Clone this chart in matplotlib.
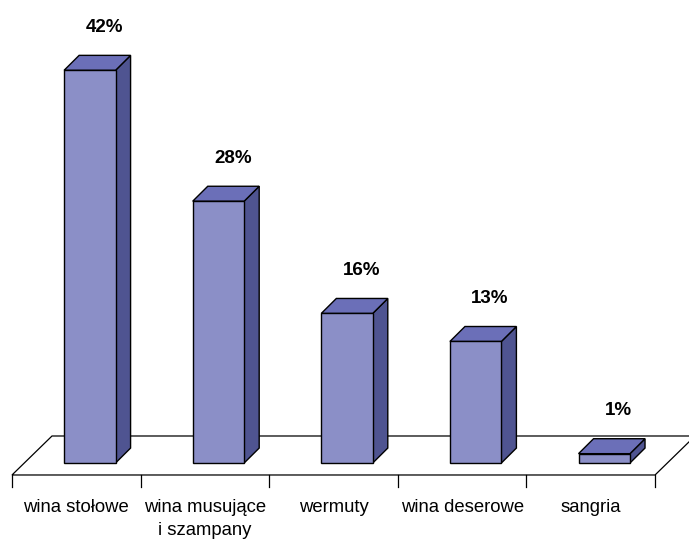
import matplotlib
matplotlib.use('Agg')
from matplotlib import pyplot as plt
from matplotlib.patches import Polygon

# dane
categories = ['wina stołowe', 'wina musujące\ni szampany', 'wermuty', 'wina deserowe', 'sangria']
values = [42, 28, 16, 13, 1]
labels = ['42%', '28%', '16%', '13%', '1%']

FRONT = '#8b8fc7'
SIDE = '#4f5491'
TOP = '#6b6fb8'

# geometria 3D (w jednostkach osi)
bar_left = 0.405
bar_w = 0.40
dx = 0.117   # głębokość w poziomie
dy = 1.6     # głębokość w pionie (%)
floor_front = -1.28
floor_back = 2.89
floor_shift = 0.311


def draw_floor(ax, n):
    pts = [(0, floor_front), (n, floor_front),
           (n + floor_shift, floor_back), (floor_shift, floor_back)]
    ax.add_patch(Polygon(pts, closed=True, facecolor='white', edgecolor='black',
                         lw=0.9, zorder=1, clip_on=False))
    for i in range(n + 1):
        ax.plot([i, i], [floor_front, -2.57], color='black', lw=0.9, zorder=1)


def draw_bar(ax, i, v):
    x0 = i + bar_left
    x1 = x0 + bar_w
    front = [(x0, 0), (x1, 0), (x1, v), (x0, v)]
    side = [(x1, 0), (x1 + dx, dy), (x1 + dx, v + dy), (x1, v)]
    top = [(x0, v), (x1, v), (x1 + dx, v + dy), (x0 + dx, v + dy)]
    for pts, c in ((side, SIDE), (top, TOP), (front, FRONT)):
        ax.add_patch(Polygon(pts, closed=True, facecolor=c, edgecolor='black',
                             lw=1.0, joinstyle='miter', zorder=3))


def create_chart():
    fig = plt.figure(figsize=(6.89, 5.41), dpi=100)
    ax = fig.add_axes([0, 0, 1, 1])
    ax.set_xlim(-0.0933, 5.264)
    ax.set_ylim(-8.34, 49.52)
    ax.axis('off')

    n = len(values)
    draw_floor(ax, n)
    for i, v in enumerate(values):
        draw_bar(ax, i, v)
        ax.text(i + bar_left + bar_w / 2 + dx * 0.95, v + dy + 3.0, labels[i],
                ha='center', va='center', fontsize=13.5, fontweight='bold',
                family='Liberation Sans')
        # etykiety kategorii, linia po linii
        for k, line in enumerate(categories[i].split('\n')):
            ax.text(i + 0.5, -5.24 - 2.5 * k, line, ha='center', va='baseline',
                    fontsize=13.3, family='Liberation Sans')

    fig.savefig('out.png', dpi=100)


if __name__ == '__main__':
    create_chart()
